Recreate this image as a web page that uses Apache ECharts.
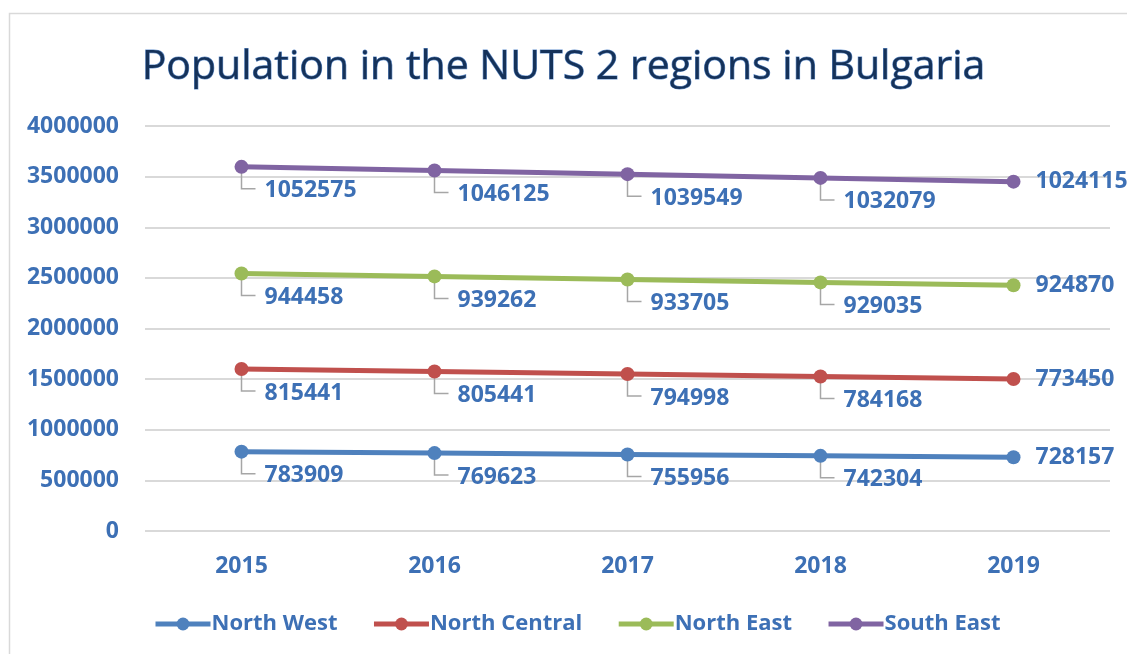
<!DOCTYPE html>
<html><head><meta charset="utf-8">
<script src="https://cdn.jsdelivr.net/npm/echarts@6/dist/echarts.min.js"></script>
<style>html,body{margin:0;padding:0;background:#fff}#c{width:1127px;height:654px}</style>
</head><body><div id="c"></div>
<script>
var years = ['2015','2016','2017','2018','2019'];
var seriesNames = ['North West','North Central','North East','South East'];
var northWest = [783909, 769623, 755956, 742304, 728157];
var northCentral = [815441, 805441, 794998, 784168, 773450];
var northEast = [944458, 939262, 933705, 929035, 924870];
var southEast = [1052575, 1046125, 1039549, 1032079, 1024115];
var colors = ['#4F81BD','#C0504D','#9BBB59','#8064A2'];
var textBlue = '#3D70B5';
var FONT = '"Open Sans", sans-serif';

var allData = [northWest, northCentral, northEast, southEast];
var cum = [0,0,0,0,0];
var leaderData = [];
allData.forEach(function(arr){
  arr.forEach(function(v,i){
    cum[i] += v;
    if (i < arr.length - 1) leaderData.push([i, cum[i]]);
  });
});

var series = allData.map(function(arr, k){
  return {
    name: seriesNames[k], type: 'line', stack: 'total',
    data: arr.map(function(v,i){
      return {value: v, label: i === arr.length - 1 ? {offset:[0,0], distance:15} : {}};
    }),
    symbol: 'circle', symbolSize: 14,
    itemStyle: {color: colors[k]},
    lineStyle: {color: colors[k], width: 5},
    z: 3,
    label: {show: true, position: 'right', distance: 16, offset: [0, 24],
      color: textBlue, fontFamily: FONT, fontWeight: 'bold', fontSize: 23}
  };
});
series.push({
  type: 'custom', silent: true, z: 1, data: leaderData,
  renderItem: function(params, api){
    var p = api.coord([api.value(0), api.value(1)]);
    return {type:'polyline', shape:{points:[[p[0], p[1]], [p[0], p[1]+22], [p[0]+14, p[1]+22]]},
      style:{stroke:'#A6A6A6', lineWidth:1.5, fill:null}};
  }
});

var chart = echarts.init(document.getElementById('c'));
chart.setOption({
  animation: false,
  backgroundColor: '#fff',
  graphic: [{type:'rect', shape:{x:9.5, y:13.5, width:1200, height:700}, style:{fill:null, stroke:'#D9D9D9', lineWidth:1.5}, z:-1}],
  title: {text: 'Population in the NUTS 2 regions in Bulgaria', left: 'center', top: 42,
    textStyle: {fontFamily: FONT, fontSize: 41, fontWeight: 'normal', color: '#15325A',
      textBorderColor: '#6A95CF', textBorderWidth: 1}},
  grid: {left: 145, right: 17, top: 126, bottom: 123},
  xAxis: {type: 'category', data: years, boundaryGap: true,
    axisLine: {show: false}, axisTick: {show: false},
    axisLabel: {margin: 24, color: textBlue, fontFamily: FONT, fontWeight: 'bold', fontSize: 23}},
  yAxis: {type: 'value', min: 0, max: 4000000, interval: 500000,
    axisLine: {show: false}, axisTick: {show: false},
    splitLine: {lineStyle: {color: '#D9D9D9', width: 2}},
    axisLabel: {margin: 26, color: textBlue, fontFamily: FONT, fontWeight: 'bold', fontSize: 23,
      formatter: function(v){ return String(v); }}},
  legend: {data: seriesNames, bottom: 14, left: 148, itemWidth: 55, itemHeight: 16, itemGap: 34,
    lineStyle: {width: 5},
    textStyle: {color: textBlue, fontFamily: FONT, fontWeight: 'bold', fontSize: 22, padding:[0,0,0,-4]}},
  series: series
});
</script></body></html>
